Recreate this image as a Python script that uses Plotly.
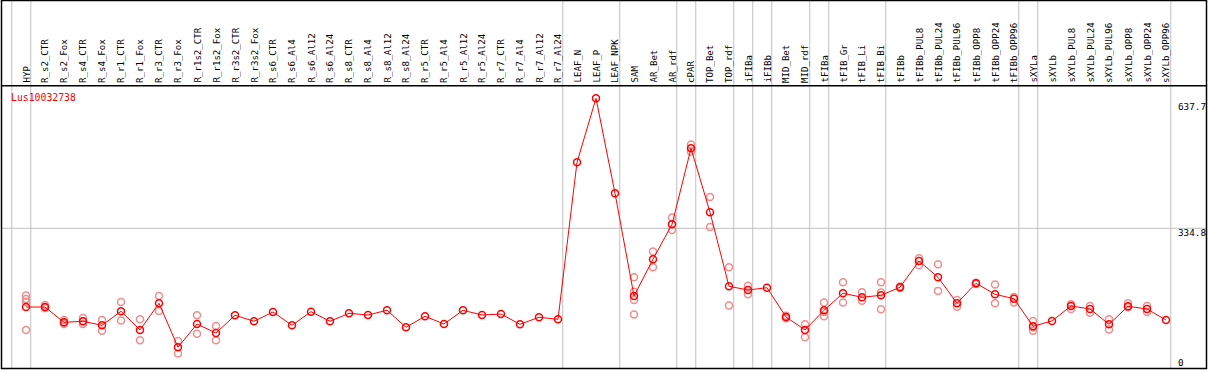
import plotly.graph_objects as go

categories = [
    "HYP", "R_s2_CTR", "R_s2_Fox", "R_s4_CTR", "R_s4_Fox", "R_r1_CTR", "R_r1_Fox",
    "R_r3_CTR", "R_r3_Fox", "R_r1s2_CTR", "R_r1s2_Fox", "R_r3s2_CTR", "R_r3s2_Fox",
    "R_s6_CTR", "R_s6_Al4", "R_s6_Al12", "R_s6_Al24", "R_s8_CTR", "R_s8_Al4",
    "R_s8_Al12", "R_s8_Al24", "R_r5_CTR", "R_r5_Al4", "R_r5_Al12", "R_r5_Al24",
    "R_r7_CTR", "R_r7_Al4", "R_r7_Al12", "R_r7_Al24", "LEAF_N", "LEAF_P", "LEAF_NPK",
    "SAM", "AR_Bet", "AR_rdf", "cPAR", "TOP_Bet", "TOP_rdf", "iFIBa", "iFIBb",
    "MID_Bet", "MID_rdf", "tFIBa", "tFIB_Gr", "tFIB_Li", "tFIB_Bi", "tFIBb",
    "tFIBb_PUL8", "tFIBb_PUL24", "tFIBb_PUL96", "tFIBb_OPP8", "tFIBb_OPP24",
    "tFIBb_OPP96", "sXYLa", "sXYLb", "sXYLb_PUL8", "sXYLb_PUL24", "sXYLb_PUL96",
    "sXYLb_OPP8", "sXYLb_OPP24", "sXYLb_OPP96",
]

mean_values = [
    151.4, 151.4, 115.8, 118.1, 108.8, 141.4, 97.9, 160.1, 57.6, 111.8, 90.9,
    132.1, 118.1, 139.8, 108.8, 140.5, 118.1, 136.8, 132.8, 143.8, 104.2,
    129.8, 111.8, 143.8, 132.8, 135.1, 111.1, 127.5, 122.8, 488.6, 637.7, 416.4,
    177.1, 262.6, 344.1, 521.2, 372.1, 199.7, 191.1, 196.4, 128.2, 97.9,
    143.8, 183.4, 174.1, 178.7, 197.4, 258.6, 220.7, 160.1, 206.7, 181.0,
    170.8, 106.5, 118.8, 153.8, 146.8, 111.1, 153.1, 146.8, 121.2,
]

rep_cats = [
    "HYP", "R_s2_CTR", "R_s2_Fox", "R_s4_CTR", "R_s4_Fox", "R_r1_CTR", "R_r1_Fox",
    "R_r3_CTR", "R_r3_Fox", "R_r1s2_CTR", "R_r1s2_Fox", "SAM", "AR_Bet", "AR_rdf",
    "cPAR", "TOP_Bet", "TOP_rdf", "iFIBa", "MID_Bet", "MID_rdf", "tFIBa", "tFIB_Gr",
    "tFIB_Li", "tFIB_Bi", "tFIBb", "tFIBb_PUL8", "tFIBb_PUL24", "tFIBb_PUL96",
    "tFIBb_OPP8", "tFIBb_OPP24", "tFIBb_OPP96", "sXYLa", "sXYLb_PUL8",
    "sXYLb_PUL24", "sXYLb_PUL96", "sXYLb_OPP8", "sXYLb_OPP24",
]
rep_values = [
    [178, 170, 163, 98], [156, 151, 149], [121, 114, 112], [126, 118, 112],
    [121, 96], [163, 120], [123, 74], [177, 142], [72, 43], [132, 89], [107, 74],
    [221, 187, 168, 134], [281, 244], [360, 331], [530, 513], [408, 338],
    [244, 155], [201, 181], [131, 125], [111, 81], [162, 140, 130], [209, 162],
    [186, 166], [209, 185, 146], [199, 196], [265, 249], [251, 189], [168, 152],
    [208, 205], [204, 160], [175, 162], [119, 104, 96], [158, 147], [154, 138],
    [123, 99], [160, 151], [154, 140],
]

group_sizes = [1, 28, 3, 3, 1, 2, 1, 1, 2, 1, 3, 7, 1, 7]
tick_labels = ["637.7", "334.8", "0"]
tick_values = [637.7, 334.8, 0]
gene_name = "Lus10032738"

W, H = 1209, 370
idx = {c: i for i, c in enumerate(categories)}

rx, ry = [], []
for c, vals in zip(rep_cats, rep_values):
    for v in vals:
        rx.append(idx[c])
        ry.append(v)

fig = go.Figure()
fig.add_trace(go.Scatter(
    x=rx, y=ry, mode="markers",
    marker=dict(symbol="circle-open", size=7, color="rgb(240,140,140)",
                line=dict(width=1.5, color="rgb(240,140,140)")),
    hoverinfo="skip", showlegend=False,
))
fig.add_trace(go.Scatter(
    x=list(range(len(categories))), y=mean_values, mode="lines+markers",
    line=dict(color="#ff0000", width=1),
    marker=dict(symbol="circle-open", size=7, color="#ff0000",
                line=dict(width=1.5, color="#ff0000")),
    text=categories, showlegend=False,
))

# pixel mapping helpers
x0_px, dx_px = 26.0, 19.0
xr = [(0 - x0_px) / dx_px, (W - x0_px) / dx_px]
y_scale = 0.4292  # px per unit
y_zero_px = 372.0
yr = [(y_zero_px - H) / y_scale, y_zero_px / y_scale]

shapes = []
# group separators
bounds = [-1]
acc = 0
for g in group_sizes:
    acc += g
    bounds.append(acc - 1)
for b in bounds:
    shapes.append(dict(type="line", xref="x", yref="paper", x0=b + 0.25, x1=b + 0.25,
                       y0=2 / H, y1=1, line=dict(color="#c0c0c0", width=1), layer="below"))
# horizontal gridline at middle tick
shapes.append(dict(type="line", xref="paper", yref="y", x0=1 / W, x1=1207 / W,
                   y0=tick_values[1], y1=tick_values[1],
                   line=dict(color="#c0c0c0", width=1), layer="below"))
# borders
sep_y = 1 - 85.7 / H
shapes.append(dict(type="rect", xref="paper", yref="paper", x0=1.5 / W, x1=1206.5 / W,
                   y0=1.5 / H, y1=1 - 0.5 / H, line=dict(color="black", width=1.5)))
shapes.append(dict(type="line", xref="paper", yref="paper", x0=1.5 / W, x1=1206.5 / W,
                   y0=sep_y, y1=sep_y, line=dict(color="black", width=1.5)))

font_mono = "DejaVu Sans Mono"
annotations = []
for i, c in enumerate(categories):
    annotations.append(dict(x=i, xref="x", y=1 - 84 / H, yref="paper", text=c,
                            textangle=-90, showarrow=False, xanchor="center",
                            yanchor="bottom", borderpad=0,
                            font=dict(family=font_mono, size=9.1, color="black")))
tick_px = [107, 232, 362]
for t, py in zip(tick_labels, tick_px):
    annotations.append(dict(x=1177 / W, xref="paper", y=1 - py / H, yref="paper", text=t,
                            showarrow=False, xanchor="left", yanchor="middle", borderpad=0,
                            font=dict(family=font_mono, size=9.3, color="black")))
annotations.append(dict(x=10 / W, xref="paper", y=1 - 97.5 / H, yref="paper",
                        text=gene_name, showarrow=False, xanchor="left", yanchor="middle",
                        borderpad=0, font=dict(family=font_mono, size=9.8, color="#ff0000")))

fig.update_layout(
    width=W, height=H, margin=dict(l=0, r=0, t=0, b=0),
    paper_bgcolor="white", plot_bgcolor="white",
    xaxis=dict(range=xr, visible=False, fixedrange=True),
    yaxis=dict(range=yr, visible=False, fixedrange=True),
    shapes=shapes, annotations=annotations, showlegend=False,
)
fig.write_html(
    "out.html",
    config={"displayModeBar": False},
    post_script="document.body.style.margin='0';document.body.style.overflow='hidden';",
)
